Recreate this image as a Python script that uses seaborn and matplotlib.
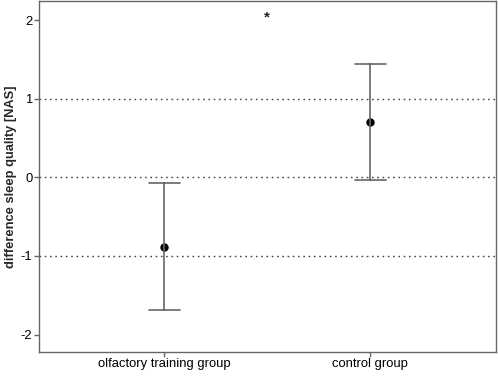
import pandas as pd
import seaborn as sns
import matplotlib.pyplot as plt

# values
groups = ["olfactory training group", "control group"]
means = [-0.89, 0.70]
ci_low = [-1.69, -0.04]
ci_high = [-0.07, 1.44]
sig_label = "*"
sig_y = 2.03

# long form: lower bound, mean, upper bound per group
rows = []
for g, lo, m, hi in zip(groups, ci_low, means, ci_high):
    for v in (lo, m, hi):
        rows.append({"group": g, "value": v})
df = pd.DataFrame(rows)

sns.set_theme(style="white")
plt.rcParams["font.family"] = ["Liberation Sans", "DejaVu Sans"]

fig = plt.figure(figsize=(4.98, 3.78), dpi=100)
ax = fig.add_axes([0.078, 0.069, 0.918, 0.928])

# dotted reference lines
for yv in (1, 0, -1):
    ax.axhline(yv, color="#444444", linewidth=1.0, linestyle=(0, (1.2, 2.6)), zorder=0)

sns.pointplot(
    data=df, x="group", y="value", order=groups,
    estimator="median", errorbar=("pi", 100),
    linestyle="none", marker="o", markersize=4, color="black",
    capsize=0.15, err_kws={"color": "#666666", "linewidth": 1.2},
    ax=ax,
)

ax.text(0.5, sig_y, sig_label, ha="center", va="center", fontsize=11, fontweight="bold")

ax.set_xlim(-0.61, 1.61)
ax.set_ylim(-2.22, 2.24)
ax.set_yticks([-2, -1, 0, 1, 2])
ax.set_yticklabels(["-2", "-1", "0", "1", "2"])
ax.set_xlabel("")
ax.set_ylabel("difference sleep quality [NAS]", fontsize=9.3, fontweight="bold", labelpad=3)

for s in ax.spines.values():
    s.set_color("#666666")
    s.set_linewidth(1.0)
ax.tick_params(axis="both", direction="out", length=3.6, width=1.0, color="#666666",
               labelsize=9.4, labelcolor="black", pad=1, left=True, bottom=True)

plt.savefig("out.png", dpi=100)
plt.close()
